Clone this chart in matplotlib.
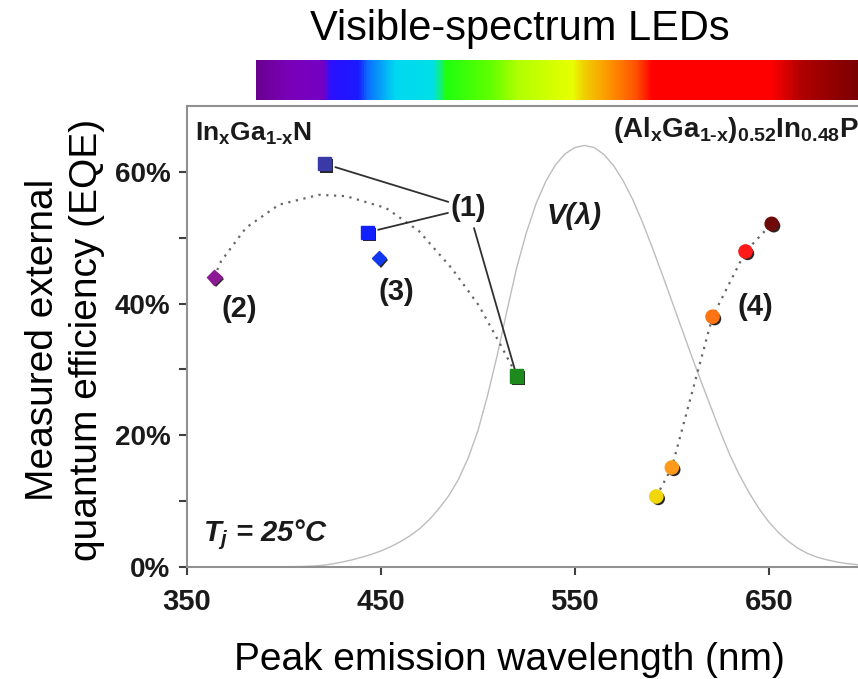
import numpy as np
import matplotlib
matplotlib.use("Agg")
import matplotlib.pyplot as plt
import matplotlib.patheffects as pe
from matplotlib.colors import LinearSegmentedColormap

plt.rcParams['font.family'] = ['Liberation Sans', 'DejaVu Sans']
plt.rcParams['mathtext.fontset'] = 'custom'
plt.rcParams['mathtext.rm'] = 'Liberation Sans:bold'
plt.rcParams['mathtext.bf'] = 'Liberation Sans:bold'
plt.rcParams['mathtext.it'] = 'Liberation Sans:italic:bold'

# InGaN LEDs (squares = (1), diamonds = (2), (3))
ingan_wl = [421, 443, 449, 364, 520]
ingan_eqe = [61.2, 50.8, 46.9, 44.0, 29.0]
ingan_marker = ['s', 's', 'D', 'D', 's']
ingan_color = ['#3a3aa6', '#1020ff', '#1038f0', '#8c1a94', '#1e8a1e']

# dotted trend through the InGaN points
ingan_trend_wl = [364, 367.5, 380.4, 397.4, 418, 432, 452.6, 469.6, 486.6, 500.5, 510.8, 517.5, 520]
ingan_trend_eqe = [44.0, 46.4, 51.5, 55.0, 56.5, 56.3, 54.5, 51.0, 45.3, 39.7, 34.2, 30.5, 29.0]

# AlGaInP LEDs (4)
algainp_wl = [592, 600, 621, 638, 651.5]
algainp_eqe = [10.7, 15.1, 38.0, 47.9, 52.1]
algainp_color = ['#f2d60c', '#ff9a1a', '#ff7412', '#ff1a1a', '#6e0a0a']

# CIE photopic eye sensitivity V(lambda), drawn with its peak at 64 %
cie_wl = list(range(380, 705, 5))
cie_v = [0.000039, 0.000064, 0.00012, 0.000217, 0.000396, 0.00064, 0.00121, 0.00218,
         0.004, 0.0073, 0.0116, 0.01684, 0.023, 0.0298, 0.038, 0.048, 0.06, 0.0739,
         0.09098, 0.1126, 0.13902, 0.1693, 0.20802, 0.2586, 0.323, 0.4073, 0.503,
         0.6082, 0.71, 0.7932, 0.862, 0.91485, 0.954, 0.9803, 0.99495, 1.0, 0.995,
         0.9786, 0.952, 0.9154, 0.87, 0.8163, 0.757, 0.6949, 0.631, 0.5668, 0.503,
         0.4412, 0.381, 0.321, 0.265, 0.217, 0.175, 0.1382, 0.107, 0.0816, 0.061,
         0.04458, 0.032, 0.0232, 0.017, 0.01192, 0.00821, 0.005723, 0.004102]
v_peak = 64

# colour strip above the plot
spectrum_nm = [385, 401, 419, 423, 437, 442, 456, 476, 482, 505, 519, 547, 553, 567, 580, 588, 649, 665, 700]
spectrum_colors = ['#6a0090', '#7a00b8', '#7400c4', '#2a10ff', '#1a1aff', '#0a70ff', '#00d8f0',
                   '#00e0e8', '#20ff10', '#60ff00', '#b0ff00', '#e8ff00', '#f0d000', '#ff9000',
                   '#ff5000', '#ff0000', '#ff0000', '#b00000', '#700000']

fig = plt.figure(figsize=(8.58, 6.79), dpi=100)
ax = fig.add_axes([0.218, 0.165, 0.791, 0.679])

shadow = [pe.SimplePatchShadow(offset=(1.5, -1.5), shadow_rgbFace='k', alpha=0.85), pe.Normal()]

ax.plot(cie_wl, [v * v_peak for v in cie_v], color='#bdbdbd', lw=1.0, zorder=1)
ax.plot(ingan_trend_wl, ingan_trend_eqe, ls=(0, (1, 2.5)), color='#666666', lw=1.6, zorder=2)
ax.plot(algainp_wl, algainp_eqe, ls=(0, (1, 2.5)), color='#666666', lw=1.6, zorder=2)

for w, e, m, c in zip(ingan_wl, ingan_eqe, ingan_marker, ingan_color):
    ax.plot([w], [e], marker=m, ms=9.5 if m == 's' else 7.5, color=c, mec=c, ls='none',
            zorder=4, path_effects=shadow)
for w, e, c in zip(algainp_wl, algainp_eqe, algainp_color):
    ax.plot([w], [e], marker='o', ms=9.5, color=c, mec=c, ls='none', zorder=4, path_effects=shadow)

# leader lines for label (1)
for i in [0, 1, 4]:
    ax.annotate('', xy=(ingan_wl[i], ingan_eqe[i]), xytext=(495, 54.5),
                arrowprops=dict(arrowstyle='-', color='#303030', lw=1.3,
                                shrinkA=15, shrinkB=8 if i < 2 else 4))

lab = dict(fontsize=21, fontweight='bold', color='#1a1a1a', ha='center', va='center')
ax.text(495, 54.5, '(1)', **lab)
ax.text(377, 39.2, '(2)', **lab)
ax.text(458, 41.8, '(3)', **lab)
ax.text(643, 39.5, '(4)', **lab)
ax.text(549.5, 53.3, 'V(λ)', fontsize=21, fontweight='bold', style='italic',
        color='#1a1a1a', ha='center', va='center')
ax.text(0.012, 0.94, r'In$_\mathbf{x}$Ga$_\mathbf{1\text{-}x}$N', transform=ax.transAxes,
        fontsize=19, fontweight='bold', color='#1a1a1a', ha='left', va='center')
ax.text(0.99, 0.948, r'(Al$_\mathbf{x}$Ga$_\mathbf{1\text{-}x}$)$_\mathbf{0.52}$In$_\mathbf{0.48}$P',
        transform=ax.transAxes, fontsize=20, fontweight='bold', color='#1a1a1a',
        ha='right', va='center')
ax.text(0.024, 0.069, r'$T_j$ = 25°C', transform=ax.transAxes, fontsize=21,
        fontweight='bold', style='italic', color='#1a1a1a', ha='left', va='center')

ax.set_xlim(350, 700)
ax.set_ylim(0, 70)
ax.set_xticks([350, 450, 550, 650])
ax.set_yticks([0, 20, 40, 60])
ax.set_yticks([10, 30, 50], minor=True)
ax.set_yticklabels(['0%', '20%', '40%', '60%'])
ax.tick_params(axis='both', which='both', direction='out', length=6, width=1.5,
               color='#404040', labelcolor='#1a1a1a')
ax.tick_params(axis='x', labelsize=21, pad=9)
ax.tick_params(axis='y', labelsize=20, pad=6)
for t in ax.get_xticklabels() + ax.get_yticklabels():
    t.set_fontweight('bold')
for s in ['left', 'bottom', 'top']:
    ax.spines[s].set_color('#909090')
    ax.spines[s].set_linewidth(1.5)
ax.spines['right'].set_visible(False)

fig.text(0.076, 0.5, 'Measured external\nquantum efficiency (EQE)', rotation=90,
         fontsize=28, ha='center', va='center', multialignment='center', linespacing=1.28)
fig.text(0.594, 0.028, 'Peak emission wavelength (nm)', fontsize=28, ha='center', va='center')
fig.text(0.606, 0.958, 'Visible-spectrum LEDs', fontsize=30, ha='center', va='center')

# spectrum strip, same nm scale as the main axes
cax = fig.add_axes([0.298, 0.853, 0.716, 0.059])
pos = [(n - spectrum_nm[0]) / (spectrum_nm[-1] - spectrum_nm[0]) for n in spectrum_nm]
cmap = LinearSegmentedColormap.from_list('spec', list(zip(pos, spectrum_colors)))
cax.imshow(np.linspace(0, 1, 512)[None, :], aspect='auto', cmap=cmap,
           extent=[spectrum_nm[0], spectrum_nm[-1], 0, 1])
cax.axis('off')

fig.savefig('out.png', dpi=100)
